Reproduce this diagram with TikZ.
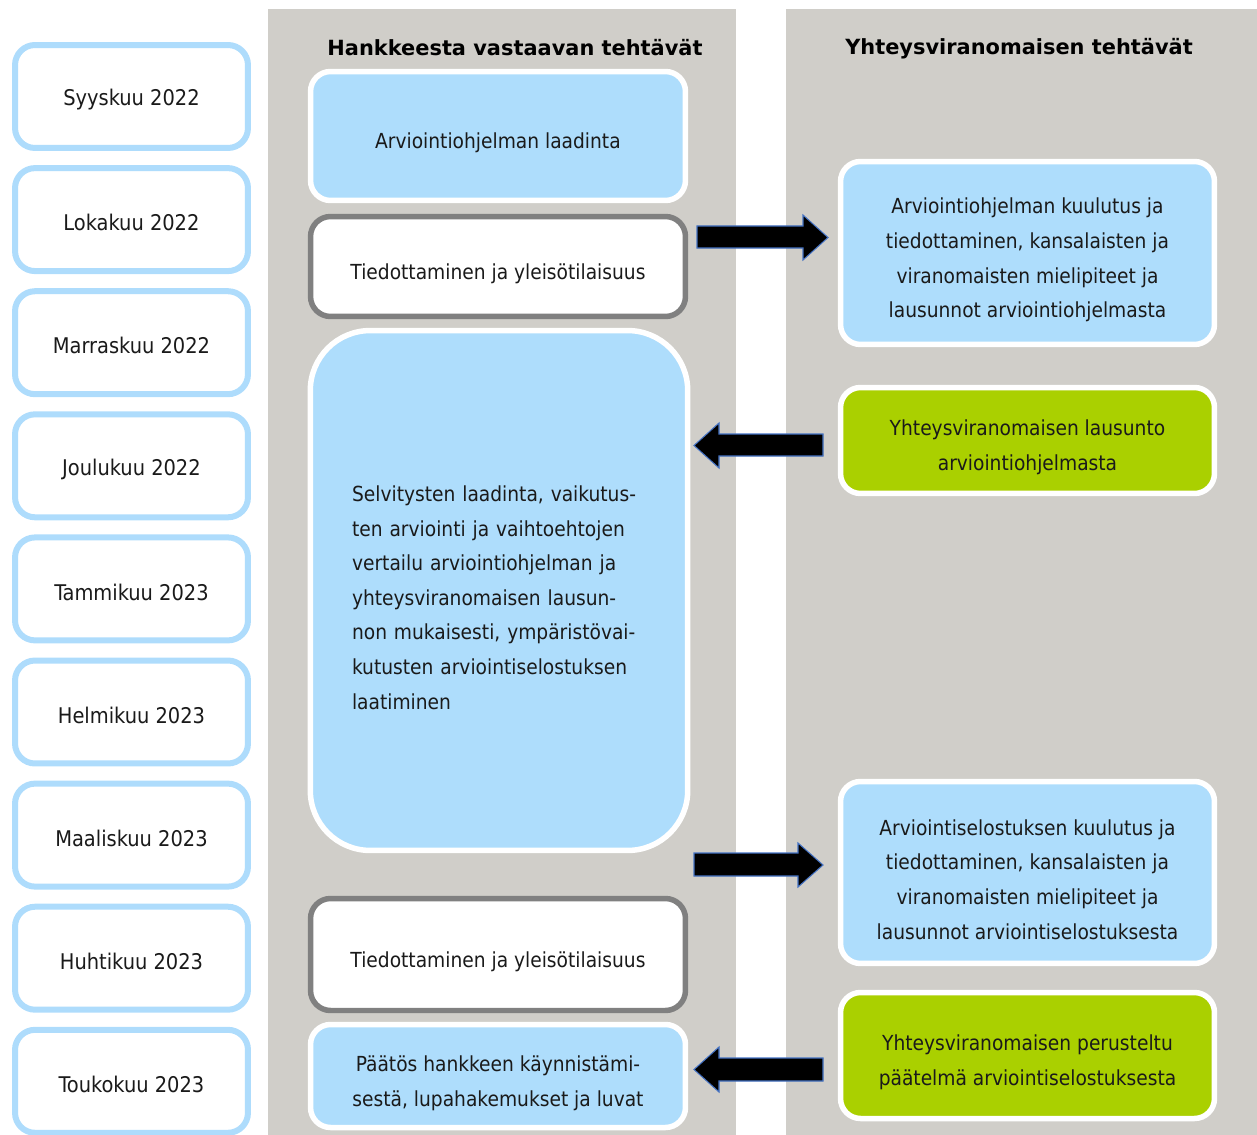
\documentclass[tikz,border=0pt]{standalone}
\usepackage{fontspec}
\setmainfont{DejaVu Sans Condensed}
\newfontfamily\headfont{DejaVu Sans}
\usepackage{tikz}
\definecolor{panelgray}{RGB}{208,206,201}
\definecolor{monthblue}{RGB}{174,220,252}
\definecolor{taskblue}{RGB}{174,221,252}
\definecolor{taskgreen}{RGB}{170,208,0}
\definecolor{framegray}{RGB}{128,128,128}
\definecolor{arrowedge}{RGB}{68,114,196}
\definecolor{ink}{RGB}{26,26,26}
% lowers the text a little inside its box
\newcommand{\lift}{\rule{0pt}{17pt}}
\tikzset{
  plain/.style={text=ink, font=\fontsize{11.8}{19.7}\selectfont, align=center, inner sep=0pt},
  txt/.style={plain, execute at begin node={\lift}},
  month/.style={plain, font=\fontsize{12.3}{19.7}\selectfont, execute at begin node={\rule{0pt}{13pt}},
    draw=monthblue, fill=white, line width=0.12cm, rounded corners=0.4cm,
    minimum width=4.66cm, minimum height=2.06cm},
  bluetask/.style={txt, draw=white, fill=taskblue, line width=0.11cm, rounded corners=0.4cm},
  whitetask/.style={txt, draw=framegray, fill=white, line width=0.11cm, rounded corners=0.4cm},
  greentask/.style={txt, draw=white, fill=taskgreen, line width=0.11cm, rounded corners=0.4cm},
  heading/.style={text=black, font=\headfont\bfseries\fontsize{11.9}{14}\selectfont},
  blockarrow/.style={fill=black, draw=arrowedge, line width=0.6pt, line join=miter}
}
\begin{document}
\begin{tikzpicture}[x=0.02cm, y=-0.02cm]
\useasboundingbox (0,0) rectangle (1257,1135);
% columns
\fill[panelgray] (268,9) rectangle (736,1135);
\fill[panelgray] (786,9) rectangle (1257,1135);
\node[heading] (hdleft) at (515,48) {Hankkeesta vastaavan tehtävät};
\node[heading] (hdright) at (1019,49) {Yhteysviranomaisen tehtävät};
% months
\node[month] (m1) at (131.5,96.5) {Syyskuu 2022};
\node[month] (m2) at (131.5,219.6) {Lokakuu 2022};
\node[month] (m3) at (131.5,342.7) {Marraskuu 2022};
\node[month] (m4) at (131.5,465.8) {Joulukuu 2022};
\node[month] (m5) at (131.5,588.9) {Tammikuu 2023};
\node[month] (m6) at (131.5,712.0) {Helmikuu 2023};
\node[month] (m7) at (131.5,835.1) {Maaliskuu 2023};
\node[month] (m8) at (131.5,958.2) {Huhtikuu 2023};
\node[month] (m9) at (131.5,1081.3) {Toukokuu 2023};
% project owner
\node[bluetask, minimum width=7.5cm, minimum height=2.58cm] (laadinta) at (498,136)
  {Arviointiohjelman laadinta};
\node[whitetask, minimum width=7.5cm, minimum height=2.0cm] (tied1) at (498,266.5)
  {Tiedottaminen ja yleisötilaisuus};
\node[bluetask, minimum width=7.55cm, minimum height=10.4cm, rounded corners=1.2cm,
  text width=5.88cm, align=left] (selvitys) at (499,590.5)
  {Selvitysten laadinta, vaikutus-\\ten arviointi ja vaihtoehtojen\\vertailu arviointiohjelman ja\\yhteysviranomaisen lausun-\\non mukaisesti, ympäristövai-\\kutusten arviointiselostuksen\\laatiminen};
\node[whitetask, minimum width=7.5cm, minimum height=2.24cm] (tied2) at (498,954.5)
  {Tiedottaminen ja yleisötilaisuus};
\node[bluetask, minimum width=7.5cm, minimum height=2.06cm] (paatos) at (498,1076)
  {\lift Päätös hankkeen käynnistämi-\\sestä, lupahakemukset ja luvat};
% authority
\node[bluetask, minimum width=7.48cm, minimum height=3.66cm] (kuul1) at (1027.5,253)
  {\lift Arviointiohjelman kuulutus ja\\tiedottaminen, kansalaisten ja\\viranomaisten mielipiteet ja\\lausunnot arviointiohjelmasta};
\node[greentask, minimum width=7.48cm, minimum height=2.12cm] (lausunto) at (1027.5,440.5)
  {\lift Yhteysviranomaisen lausunto\\arviointiohjelmasta};
\node[bluetask, minimum width=7.48cm, minimum height=3.64cm] (kuul2) at (1027.5,872.5)
  {\lift Arviointiselostuksen kuulutus ja\\tiedottaminen, kansalaisten ja\\viranomaisten mielipiteet ja\\lausunnot arviointiselostuksesta};
\node[greentask, minimum width=7.48cm, minimum height=2.52cm] (paatelma) at (1027.5,1055.5)
  {\lift Yhteysviranomaisen perusteltu\\päätelmä arviointiselostuksesta};
% arrows
\draw[blockarrow] (697,226) -- (803,226) -- (803,215) -- (828,237.5) -- (803,260) -- (803,248) -- (697,248) -- cycle;
\draw[blockarrow] (823,434) -- (719,434) -- (719,423) -- (694,445.5) -- (719,468) -- (719,456) -- (823,456) -- cycle;
\draw[blockarrow] (694,853) -- (798,853) -- (798,843) -- (823,865) -- (798,887) -- (798,876) -- (694,876) -- cycle;
\draw[blockarrow] (823,1058) -- (719,1058) -- (719,1047) -- (694,1069.5) -- (719,1092) -- (719,1081) -- (823,1081) -- cycle;
\end{tikzpicture}
\end{document}
